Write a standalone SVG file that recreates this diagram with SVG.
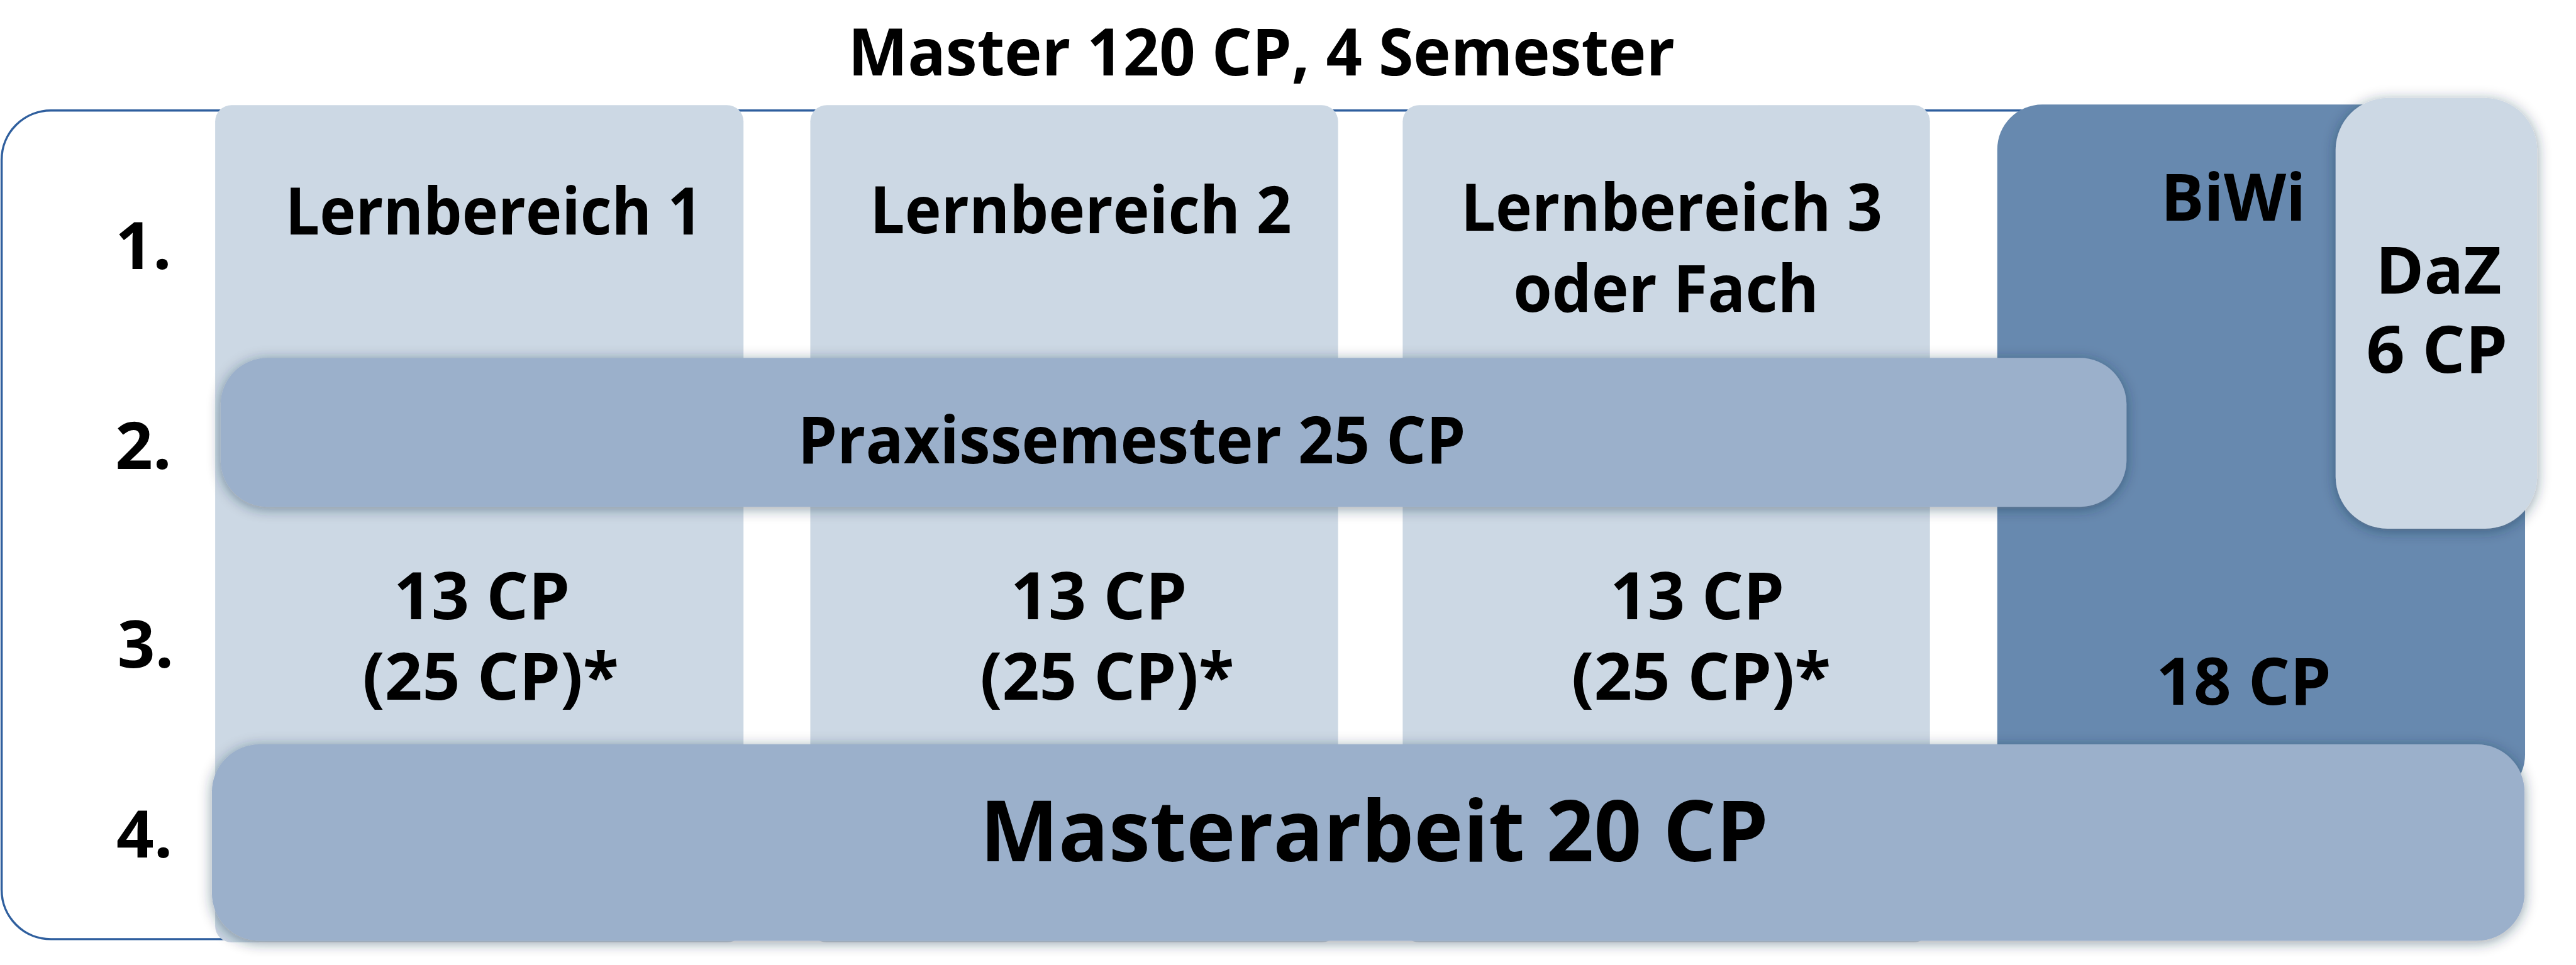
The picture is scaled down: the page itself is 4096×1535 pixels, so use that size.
<svg xmlns="http://www.w3.org/2000/svg" width="4096" height="1535" viewBox="0 0 4096 1535">
<defs>
<filter id="sh" x="-20%" y="-30%" width="140%" height="160%">
<feDropShadow dx="0" dy="4" stdDeviation="12" flood-color="#1a2a40" flood-opacity="0.45"/>
</filter>
<style>
text{font-family:"Open Sans","Noto Sans","DejaVu Sans",sans-serif;font-weight:700;fill:#000;text-anchor:middle}
.t{font-size:120px}
.big{font-size:155px}
.light{fill:#CCD8E4}
.mid{fill:#9BB0CB}
.dark{fill:#6789AF}
</style>
</defs>
<rect width="4096" height="1535" fill="#fff"/>
<g transform="scale(0.87056)">
<g id="title"><text class="t" x="2304" y="138" textLength="1510" lengthAdjust="spacingAndGlyphs">Master 120 CP, 4 Semester</text></g>
<g id="frame"><rect x="3" y="202" width="4517" height="1514" rx="90" ry="90" fill="none" stroke="#2F5F9E" stroke-width="4"/></g>
<g id="semesters">
<text class="t" x="262" y="492">1.</text>
<text class="t" x="262" y="857">2.</text>
<text class="t" x="266" y="1220">3.</text>
<text class="t" x="264" y="1567">4.</text>
</g>
<g id="lernbereich1">
<rect class="light" x="393" y="192" width="965" height="1530" rx="30" ry="30"/>
<text class="t" x="902" y="429" textLength="762" lengthAdjust="spacingAndGlyphs">Lernbereich 1</text>
<text class="t" x="880" y="1132" textLength="322" lengthAdjust="spacingAndGlyphs">13 CP</text>
<text class="t" x="896" y="1278" textLength="468" lengthAdjust="spacingAndGlyphs">(25 CP)*</text>
</g>
<g id="lernbereich2">
<rect class="light" x="1480" y="192" width="964" height="1530" rx="30" ry="30"/>
<text class="t" x="1974" y="426" textLength="770" lengthAdjust="spacingAndGlyphs">Lernbereich 2</text>
<text class="t" x="2007" y="1132" textLength="322" lengthAdjust="spacingAndGlyphs">13 CP</text>
<text class="t" x="2022" y="1278" textLength="464" lengthAdjust="spacingAndGlyphs">(25 CP)*</text>
</g>
<g id="lernbereich3">
<rect class="light" x="2562" y="192" width="963" height="1530" rx="30" ry="30"/>
<text class="t" x="3053" y="422" textLength="770" lengthAdjust="spacingAndGlyphs">Lernbereich 3</text>
<text class="t" x="3043" y="570" textLength="558" lengthAdjust="spacingAndGlyphs">oder Fach</text>
<text class="t" x="3100" y="1132" textLength="318" lengthAdjust="spacingAndGlyphs">13 CP</text>
<text class="t" x="3107" y="1278" textLength="474" lengthAdjust="spacingAndGlyphs">(25 CP)*</text>
</g>
<g id="biwi">
<rect class="dark" x="3648" y="191" width="964" height="1270" rx="82" ry="82"/>
<text class="t" x="4079" y="403" textLength="265" lengthAdjust="spacingAndGlyphs">BiWi</text>
<text class="t" x="4098" y="1288" textLength="320" lengthAdjust="spacingAndGlyphs">18 CP</text>
</g>
<g id="praxissemester">
<rect class="mid" x="403" y="654" width="3481" height="272" rx="85" ry="85" filter="url(#sh)"/>
<text class="t" x="2067" y="847" textLength="1220" lengthAdjust="spacingAndGlyphs">Praxissemester 25 CP</text>
</g>
<g id="daz">
<rect class="light" x="4266" y="179" width="368" height="787" rx="95" ry="95" filter="url(#sh)"/>
<text class="t" x="4454" y="536" textLength="230" lengthAdjust="spacingAndGlyphs">DaZ</text>
<text class="t" x="4451" y="681" textLength="258" lengthAdjust="spacingAndGlyphs">6 CP</text>
</g>
<g id="masterarbeit">
<rect class="mid" x="387" y="1360" width="4224" height="359" rx="87" ry="87" filter="url(#sh)"/>
<text class="big" x="2510" y="1574" textLength="1440" lengthAdjust="spacingAndGlyphs">Masterarbeit 20 CP</text>
</g>
<g id="connectors"></g>
</g>
</svg>
